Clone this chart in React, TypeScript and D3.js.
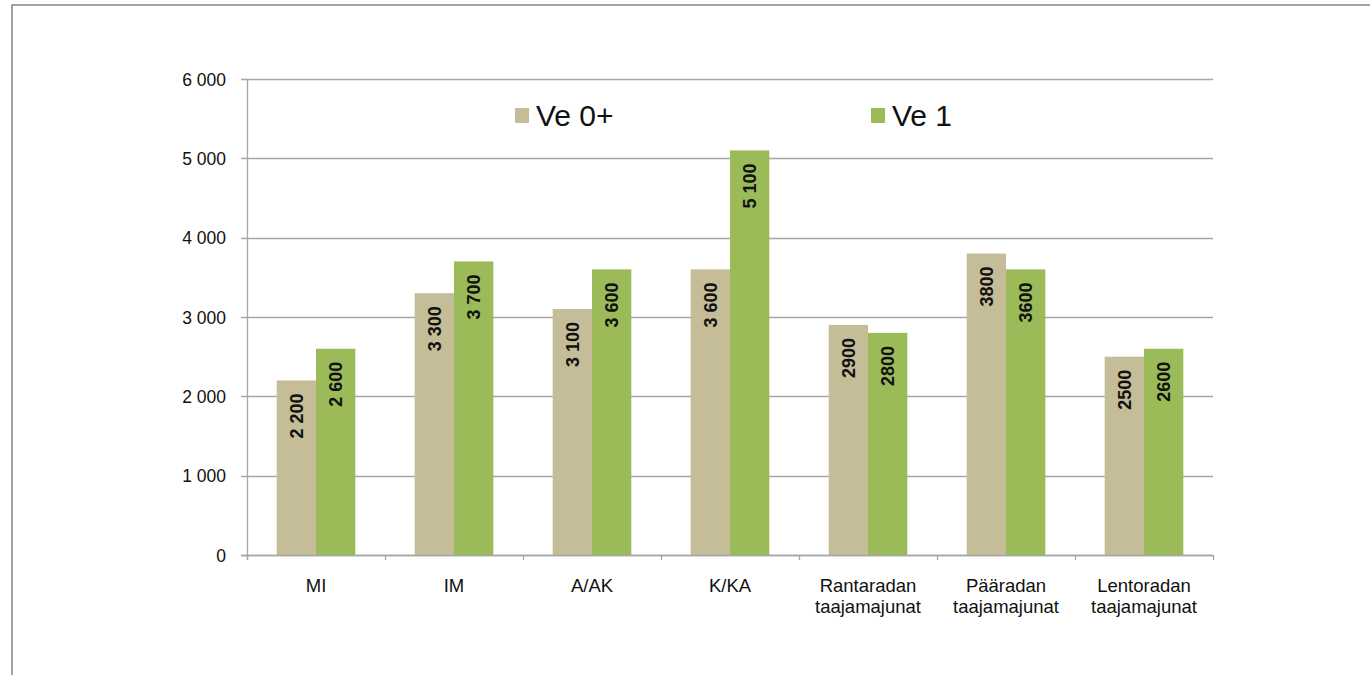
import React from "react";
import * as d3 from "d3";

const categories: string[][] = [
  ["MI"],
  ["IM"],
  ["A/AK"],
  ["K/KA"],
  ["Rantaradan", "taajamajunat"],
  ["Pääradan", "taajamajunat"],
  ["Lentoradan", "taajamajunat"],
];
const seriesNames = ["Ve 0+", "Ve 1"];
const ve0Values = [2200, 3300, 3100, 3600, 2900, 3800, 2500];
const ve1Values = [2600, 3700, 3600, 5100, 2800, 3600, 2600];
const ve0Labels = ["2 200", "3 300", "3 100", "3 600", "2900", "3800", "2500"];
const ve1Labels = ["2 600", "3 700", "3 600", "5 100", "2800", "3600", "2600"];
const yTicks = [0, 1000, 2000, 3000, 4000, 5000, 6000];
const yTickLabels = ["0", "1 000", "2 000", "3 000", "4 000", "5 000", "6 000"];

const colors = ["#C4BD97", "#9BBB59"];
const FONT = "'Liberation Sans', Arial, sans-serif";

export default function App() {
  const W = 1370, H = 675;
  const left = 247, right = 1213, top = 79, bottom = 555;
  const y = d3.scaleLinear().domain([0, 6000]).range([bottom, top]);
  const idx = categories.map((_, i) => String(i));
  const x0 = d3.scaleBand<string>().domain(idx).range([left, right]).paddingInner(0.43).paddingOuter(0.215);
  const x1 = d3.scaleBand<string>().domain(["0", "1"]).range([0, x0.bandwidth()]);
  const step = (right - left) / categories.length;
  const series = [
    { values: ve0Values, labels: ve0Labels },
    { values: ve1Values, labels: ve1Labels },
  ];
  const grid = "#a6a6a6";

  return (
    <svg width={W} height={H} style={{ position: "absolute", left: 0, top: 0, background: "#fff" }} fontFamily={FONT}>
      <rect x={0} y={0} width={W} height={H} fill="#fff" />
      {/* frame */}
      <rect x={12} y={5} width={W + 20} height={H + 20} fill="none" stroke="#858585" strokeWidth={1.5} />

      {/* gridlines & y ticks */}
      {yTicks.map((t, i) => (
        <g key={t}>
          <line x1={241} x2={right} y1={Math.round(y(t)) + 0.5} y2={Math.round(y(t)) + 0.5} stroke={grid} strokeWidth={1.3} />
          <text x={226} y={y(t) + 6.5} textAnchor="end" fontSize={17.5} fill="#111">
            {yTickLabels[i]}
          </text>
        </g>
      ))}
      {/* y axis */}
      <line x1={left + 0.5} x2={left + 0.5} y1={top} y2={bottom + 5} stroke={grid} strokeWidth={1.3} />
      {/* x ticks */}
      {d3.range(categories.length + 1).map((i) => (
        <line key={i} x1={left + i * step + 0.5} x2={left + i * step + 0.5} y1={bottom} y2={bottom + 5} stroke={grid} strokeWidth={1.3} />
      ))}

      {/* bars */}
      {series.map((s, si) =>
        s.values.map((v, ci) => {
          const bx = (x0(String(ci)) ?? 0) + (x1(String(si)) ?? 0);
          const bw = x1.bandwidth();
          const by = y(v);
          return (
            <g key={`${si}-${ci}`}>
              <rect x={bx} y={by} width={bw} height={bottom - by} fill={colors[si]} />
              <text
                transform={`translate(${bx + bw / 2 + 6.5},${by + 13}) rotate(-90)`}
                textAnchor="end"
                fontSize={18}
                fontWeight="bold"
                fill="#111"
              >
                {s.labels[ci]}
              </text>
            </g>
          );
        })
      )}
      {/* x axis */}
      <line x1={241} x2={right} y1={bottom + 0.5} y2={bottom + 0.5} stroke={grid} strokeWidth={1.3} />

      {/* category labels */}
      {categories.map((lines, ci) => {
        const cx = (x0(String(ci)) ?? 0) + x0.bandwidth() / 2;
        return (
          <text key={ci} x={cx} y={592} textAnchor="middle" fontSize={18.5} fill="#111">
            {lines.map((l, li) => (
              <tspan key={li} x={cx} dy={li === 0 ? 0 : 21}>
                {l}
              </tspan>
            ))}
          </text>
        );
      })}

      {/* legend */}
      {seriesNames.map((n, i) => {
        const lx = [515, 871][i];
        return (
          <g key={n}>
            <rect x={lx} y={108} width={14} height={15} fill={colors[i]} />
            <text x={lx + 21} y={126} fontSize={30} fill="#111">
              {n}
            </text>
          </g>
        );
      })}
    </svg>
  );
}
